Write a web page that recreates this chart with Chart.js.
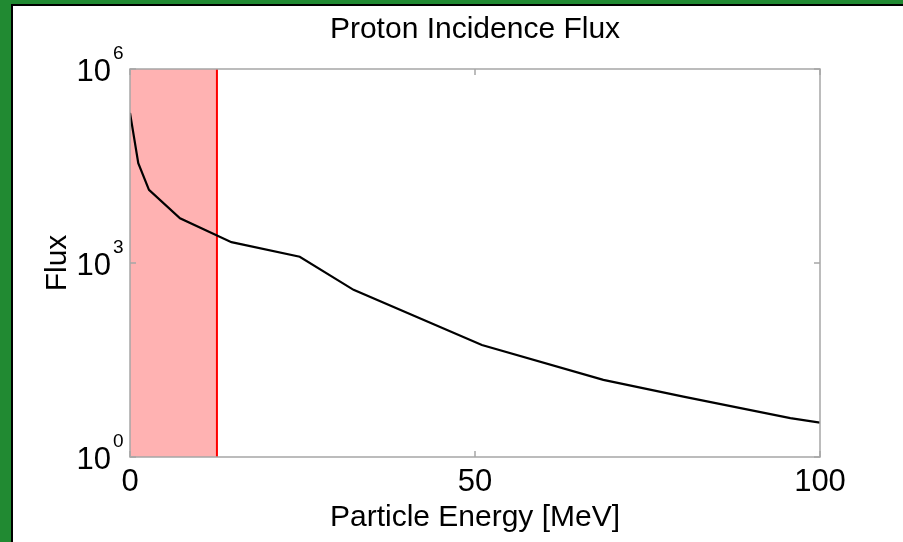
<!DOCTYPE html>
<html>
<head>
<meta charset="utf-8">
<title>Proton Incidence Flux</title>
<script src="https://cdn.jsdelivr.net/npm/chart.js@4.4.1/dist/chart.umd.min.js"></script>
<style>
  html, body { margin: 0; padding: 0; }
  #frame { position: relative; width: 903px; height: 542px; background: #218a32; overflow: hidden; }
  #inner { position: absolute; left: 11px; top: 4px; right: 0; bottom: 0; background: #fff;
           border-left: 2px solid #000; border-top: 2px solid #000; }
  #wrap { position: absolute; left: 0; top: 0; width: 903px; height: 542px; }
</style>
</head>
<body>
<div id="frame">
  <div id="inner"></div>
  <div id="wrap"><canvas id="fluxChart"></canvas></div>
</div>
<script>
// Energy [MeV] and flux
const energy = [0, 1.2, 2.75, 7.25, 14.7, 24.6, 32.4, 51, 68.6, 80.2, 95.7, 100];
const flux = [2.1e5, 3.5e4, 1.35e4, 4.9e3, 2.1e3, 1.25e3, 384, 54, 15.6, 8.6, 4.0, 3.4];

// shaded band 0 .. cutoff
const cutoffEnergy = 12.6;
const yMin = 1;
const yMax = 1e6;

const xTickStep = 50;
const yTickExponents = [0, 3, 6];

const FONT = '"Liberation Sans", Arial, Helvetica, sans-serif';

// box, inward ticks and 10^n labels (MATLAB look)
const axesBox = {
  id: 'axesBox',
  afterDraw: function (chart) {
    const ctx = chart.ctx;
    const area = chart.chartArea;
    const xs = chart.scales.x;
    const ys = chart.scales.y;
    ctx.save();
    ctx.strokeStyle = '#a6a6a6';
    ctx.lineWidth = 1.5;
    ctx.strokeRect(area.left, area.top, area.right - area.left, area.bottom - area.top);

    const tl = 6;
    ctx.beginPath();
    xs.ticks.forEach(function (t) {
      const px = xs.getPixelForValue(t.value);
      ctx.moveTo(px, area.bottom);
      ctx.lineTo(px, area.bottom - tl);
      ctx.moveTo(px, area.top);
      ctx.lineTo(px, area.top + tl);
    });
    yTickExponents.forEach(function (e) {
      const py = ys.getPixelForValue(Math.pow(10, e));
      ctx.moveTo(area.left, py);
      ctx.lineTo(area.left + tl, py);
      ctx.moveTo(area.right, py);
      ctx.lineTo(area.right - tl, py);
    });
    ctx.stroke();

    ctx.fillStyle = '#000';
    ctx.textBaseline = 'alphabetic';
    yTickExponents.forEach(function (e) {
      const py = ys.getPixelForValue(Math.pow(10, e));
      const base = py + 12;
      ctx.font = '31px ' + FONT;
      ctx.textAlign = 'right';
      ctx.fillText('10', 111, base);
      ctx.font = '19px ' + FONT;
      ctx.textAlign = 'left';
      ctx.fillText(String(e), 113, base - 22);
    });
    ctx.restore();
  },
};

Chart.defaults.color = '#000';
Chart.defaults.font.family = FONT;

new Chart(document.getElementById('fluxChart').getContext('2d'), {
  type: 'line',
  data: {
    datasets: [
      {
        label: 'Flux',
        data: energy.map(function (e, i) { return { x: e, y: flux[i] }; }),
        borderColor: '#000',
        borderWidth: 2.2,
        pointRadius: 0,
        tension: 0,
        fill: false,
        order: 1,
      },
      {
        label: 'Cutoff',
        data: [{ x: cutoffEnergy, y: yMin }, { x: cutoffEnergy, y: yMax }],
        borderColor: '#ff0000',
        borderWidth: 2,
        pointRadius: 0,
        fill: false,
        order: 2,
      },
      {
        label: 'Band',
        data: [{ x: 0, y: yMax }, { x: cutoffEnergy, y: yMax }],
        borderWidth: 0,
        borderColor: 'rgba(0,0,0,0)',
        backgroundColor: '#ffb2b2',
        pointRadius: 0,
        fill: 'start',
        order: 3,
      },
    ],
  },
  options: {
    responsive: true,
    maintainAspectRatio: false,
    animation: false,
    layout: { padding: { left: 0, top: 0, right: 83, bottom: 0 } },
    plugins: {
      legend: { display: false },
      tooltip: { enabled: false },
      title: {
        display: true,
        fullSize: false,
        text: 'Proton Incidence Flux',
        font: { size: 30, weight: 'normal' },
        color: '#000',
        padding: { top: 12, bottom: 21 },
      },
    },
    scales: {
      x: {
        type: 'linear',
        min: 0,
        max: 100,
        grid: { display: false, drawTicks: false },
        border: { display: false },
        ticks: { stepSize: xTickStep, font: { size: 31 }, padding: 7, maxRotation: 0 },
        title: {
          display: true,
          text: 'Particle Energy [MeV]',
          font: { size: 30 },
          padding: { top: 0, bottom: 6 },
        },
        afterFit: function (scale) { scale.height = 85; },
      },
      y: {
        type: 'logarithmic',
        min: yMin,
        max: yMax,
        grid: { display: false, drawTicks: false },
        border: { display: false },
        ticks: { display: false },
        title: {
          display: true,
          text: 'Flux',
          font: { size: 30 },
          padding: { top: 40, bottom: 0 },
        },
        afterFit: function (scale) { scale.width = 130; },
      },
    },
  },
  plugins: [axesBox],
});
</script>
</body>
</html>
